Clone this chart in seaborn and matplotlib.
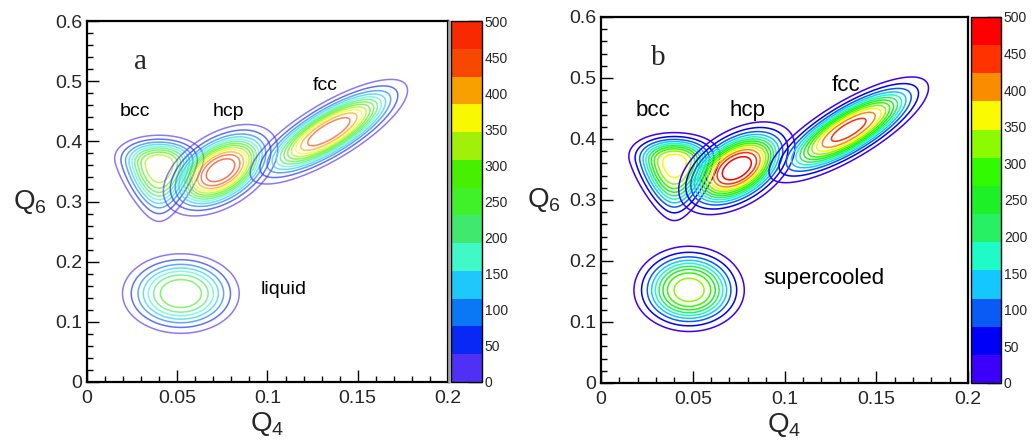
import numpy as np
import matplotlib
matplotlib.use("Agg")
import matplotlib.pyplot as plt
import seaborn as sns
from matplotlib.colors import ListedColormap, BoundaryNorm
from matplotlib.ticker import MultipleLocator, FuncFormatter
from matplotlib.cm import ScalarMappable
from matplotlib.lines import Line2D

# ---------------- data ----------------
# each phase peak: centre (Q4, Q6), width along major axis, widths on the upper / lower
# side of the minor axis (axis fractions), tilt (deg), taper of the major width, peak count
phase_a = ["bcc", "hcp", "fcc", "liquid"]
q4c_a = [0.040, 0.074, 0.134, 0.052]
q6c_a = [0.362, 0.352, 0.416, 0.147]
smaj_a = [0.064, 0.090, 0.129, 0.088]
smin_up_a = [0.0425, 0.052, 0.040, 0.060]
smin_lo_a = [0.084, 0.052, 0.040, 0.060]
ang_a = [0, 32, 31, 0]
taper_a = [2.6, 0.0, 0.0, 0.0]
peak_a = [345, 490, 455, 265]

phase_b = ["bcc", "hcp", "fcc", "supercooled"]
q4c_b = [0.040, 0.074, 0.135, 0.048]
q6c_b = [0.362, 0.352, 0.415, 0.152]
smaj_b = [0.064, 0.090, 0.129, 0.080]
smin_up_b = [0.0425, 0.052, 0.040, 0.064]
smin_lo_b = [0.084, 0.052, 0.040, 0.060]
ang_b = [0, 32, 31, 0]
taper_b = [2.6, 0.0, 0.0, 0.0]
peak_b = [370, 490, 440, 330]

labels_a = ["bcc", "hcp", "fcc", "liquid"]
lab_x_a = [0.0267, 0.0783, 0.132, 0.109]
lab_y_a = [0.450, 0.450, 0.492, 0.153]
labels_b = ["bcc", "hcp", "fcc", "supercooled"]
lab_x_b = [0.0283, 0.080, 0.1335, 0.1215]
lab_y_b = [0.446, 0.446, 0.487, 0.172]

cbar_ticks = [0, 50, 100, 150, 200, 250, 300, 350, 400, 450, 500]

colors_a = ["#5030F5", "#0A28F5", "#0A78F5", "#1EC8FA", "#40F8C8", "#40E86E",
            "#40F028", "#46F000", "#A0F00A", "#F8F800", "#F8A000", "#F84800", "#F82800"]
colors_b = ["#3C00FA", "#0000FA", "#0A5AF5", "#14C8FF", "#1EFAC8", "#28F064",
            "#1EF028", "#32FA00", "#8CFA00", "#FAFA00", "#FA8C00", "#FF3200", "#FF0000"]

# ---------------- style ----------------
sns.set_style("white")
plt.rcParams["font.family"] = ["Liberation Sans", "DejaVu Sans"]
plt.rcParams["mathtext.default"] = "regular"

q4 = np.linspace(0, 0.2, 401)
q6 = np.linspace(0, 0.6, 601)
Q4, Q6 = np.meshgrid(q4, q6)

bounds = np.linspace(0, 500, len(colors_a) + 1)
contour_levels = [12] + list(bounds[1:-1] + 1.0)


def blob(cx, cy, smaj, s_up, s_lo, ang, taper, amp):
    u = (Q4 - cx) / 0.2
    v = (Q6 - cy) / 0.6
    t = np.deg2rad(ang)
    a = u * np.cos(t) + v * np.sin(t)
    b = -u * np.sin(t) + v * np.cos(t)
    wmaj = smaj * np.clip(1 + taper * b, 0.5, None)
    wmin = np.where(b >= 0, s_up, s_lo)
    r = np.sqrt((a / wmaj) ** 2 + (b / wmin) ** 2)
    return amp * np.exp(-0.5 * r ** 3)


fig = plt.figure(figsize=(10.32, 4.46), dpi=100)

panels = [
    dict(rect=[0.0843, 0.1435, 0.3498, 0.8094], crect=[0.4370, 0.1435, 0.0300, 0.8094],
         phase=phase_a, q4c=q4c_a, q6c=q6c_a, smaj=smaj_a, sup=smin_up_a, slo=smin_lo_a,
         ang=ang_a, taper=taper_a, peak=peak_a,
         colors=colors_a, alpha=0.65, labels=labels_a, lx=lab_x_a, ly=lab_y_a, lsize=14,
         letter="a", letter_xy=(0.0294, 0.532)),
    dict(rect=[0.5824, 0.1413, 0.3556, 0.8206], crect=[0.9409, 0.1413, 0.0291, 0.8206],
         phase=phase_b, q4c=q4c_b, q6c=q6c_b, smaj=smaj_b, sup=smin_up_b, slo=smin_lo_b,
         ang=ang_b, taper=taper_b, peak=peak_b,
         colors=colors_b, alpha=1.0, labels=labels_b, lx=lab_x_b, ly=lab_y_b, lsize=16,
         letter="b", letter_xy=(0.031, 0.533)),
]

fmt = FuncFormatter(lambda v, p: f"{v:g}")

for P in panels:
    ax = fig.add_axes(P["rect"])
    cax = fig.add_axes(P["crect"])
    cmap = ListedColormap(sns.color_palette(P["colors"]))
    norm = BoundaryNorm(bounds, cmap.N)

    for i, name in enumerate(P["phase"]):
        Z = blob(P["q4c"][i], P["q6c"][i], P["smaj"][i], P["sup"][i], P["slo"][i],
                 P["ang"][i], P["taper"][i], P["peak"][i])
        ax.contour(Q4, Q6, Z, levels=contour_levels, cmap=cmap, norm=norm,
                   linewidths=1.1, alpha=P["alpha"])

    ax.set_xlim(0, 0.2)
    ax.set_ylim(0, 0.6)
    ax.xaxis.set_major_locator(MultipleLocator(0.05))
    ax.xaxis.set_minor_locator(MultipleLocator(0.01))
    ax.yaxis.set_major_locator(MultipleLocator(0.1))
    ax.yaxis.set_minor_locator(MultipleLocator(0.02))
    ax.xaxis.set_major_formatter(fmt)
    ax.yaxis.set_major_formatter(fmt)
    ax.tick_params(which="both", direction="in", top=False, right=False,
                   bottom=True, left=True, labelsize=14, width=1, color="black")
    ax.tick_params(which="major", length=8.5)
    ax.tick_params(which="minor", length=4.3)
    ax.tick_params(axis="x", pad=6)
    for s in ax.spines.values():
        s.set_linewidth(1.6)
        s.set_color("black")
    ax.set_xlabel(r"$\mathregular{Q_4}$", fontsize=20, labelpad=2)
    ax.set_ylabel(r"$\mathregular{Q_6}$", fontsize=20, rotation=0, labelpad=18, va="center")

    for t, x, y in zip(P["labels"], P["lx"], P["ly"]):
        ax.text(x, y, t, fontsize=P["lsize"], ha="center", va="center", color="black")
    ax.text(P["letter_xy"][0], P["letter_xy"][1], P["letter"], fontsize=21,
            family=["Liberation Serif", "DejaVu Serif"], ha="center", va="center")

    sm = ScalarMappable(norm=norm, cmap=cmap)
    cb = fig.colorbar(sm, cax=cax, ticks=cbar_ticks)
    cb.outline.set_linewidth(1.0)
    cb.outline.set_edgecolor("black")
    cax.yaxis.set_ticks_position("right")
    cax.tick_params(direction="in", length=10, width=1, labelsize=10, pad=2)
    cax.minorticks_off()

# grey shadow line at the right edge of panel a
fig.add_artist(Line2D([0.4355, 0.4355], [0.1435, 0.953], color="#a0a0a0", lw=2.0))

fig.savefig("out.png", dpi=100)
